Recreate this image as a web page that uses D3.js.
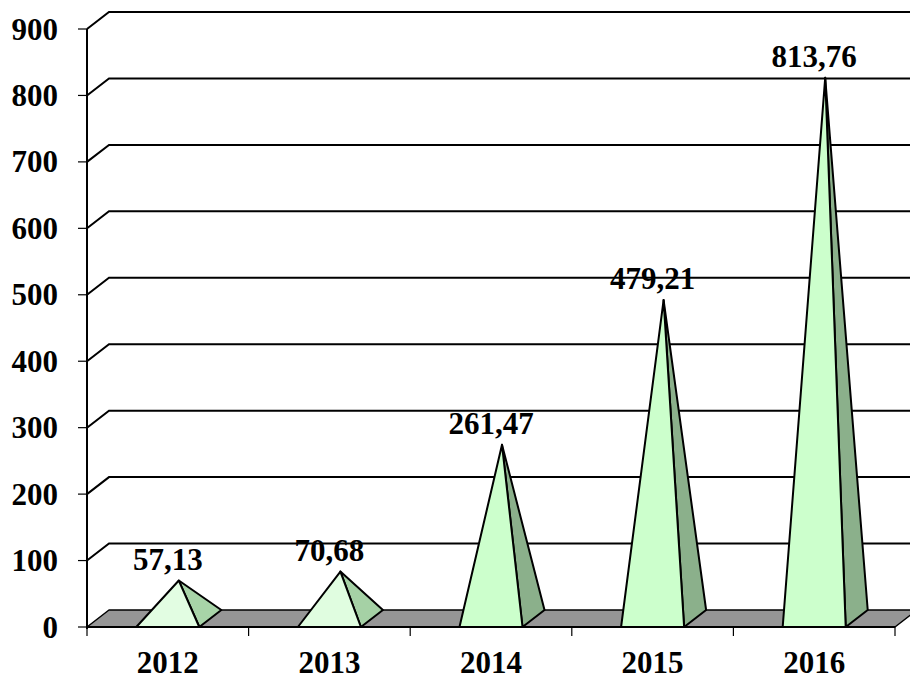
<!DOCTYPE html>
<html>
<head>
<meta charset="utf-8">
<script src="https://cdn.jsdelivr.net/npm/d3@7/dist/d3.min.js"></script>
<style>
  html, body { margin: 0; padding: 0; background: #ffffff; }
  svg { display: block; }
  text { font-family: "Liberation Serif", "Times New Roman", serif; font-weight: bold; fill: #000; }
</style>
</head>
<body>
<svg id="chart" width="910" height="682"></svg>
<script>
// Chart data
const years = ["2012", "2013", "2014", "2015", "2016"];
const values = [57.13, 70.68, 261.47, 479.21, 813.76];
const valueLabels = ["57,13", "70,68", "261,47", "479,21", "813,76"];
const yTicks = [0, 100, 200, 300, 400, 500, 600, 700, 800, 900];

const W = 910, H = 682;
const svg = d3.select("#chart");

// Front plane of the plot and the 3-D depth offset
const plotLeft = 87, plotRight = 895, plotBottom = 627, plotTop = 29;
const depthX = 22, depthY = -17;

const x = d3.scaleBand().domain(years).range([plotLeft, plotRight]).paddingInner(0).paddingOuter(0);
const y = d3.scaleLinear().domain([0, 900]).range([plotBottom, plotTop]);

const fontSize = 31;

// Back wall grid lines with their diagonal run across the side wall
const grid = svg.append("g");
yTicks.filter(v => v > 0).forEach(v => {
  const yy = y(v);
  grid.append("path")
    .attr("d", `M${plotLeft},${yy} L${plotLeft + depthX},${yy + depthY} L${W + 5},${yy + depthY}`)
    .attr("fill", "none").attr("stroke", "#000").attr("stroke-width", 2);
});

// Floor
const y0 = y(0);
svg.append("path")
  .attr("d", `M${plotLeft},${y0} L${plotRight},${y0} L${plotRight + depthX},${y0 + depthY} L${plotLeft + depthX},${y0 + depthY} Z`)
  .attr("fill", "#969696").attr("stroke", "#000").attr("stroke-width", 1.5).attr("stroke-linejoin", "round");

// Pyramids
const baseFrac = 0.39;
const bw = x.bandwidth();
const pyr = svg.append("g");
years.forEach((yr, i) => {
  const cx = x(yr) + bw / 2;
  const half = bw * baseFrac / 2;
  const fl = [cx - half, y0];
  const fr = [cx + half, y0];
  const br = [cx + half + depthX, y0 + depthY];
  const apex = [cx + depthX / 2, y(values[i]) + depthY / 2];
  const h = y0 - apex[1];
  const t = Math.max(0, Math.min(1, (h - 45) / 110));
  const frontCol = d3.interpolateRgb("#e2fde2", "#ccffcc")(t);
  const sideCol = d3.interpolateRgb("#a8d4a8", "#8bb08b")(t);
  pyr.append("path")
    .attr("d", `M${fr[0]},${fr[1]} L${br[0]},${br[1]} L${apex[0]},${apex[1]} Z`)
    .attr("fill", sideCol).attr("stroke", "#000").attr("stroke-width", 2).attr("stroke-linejoin", "round");
  pyr.append("path")
    .attr("d", `M${fl[0]},${fl[1]} L${fr[0]},${fr[1]} L${apex[0]},${apex[1]} Z`)
    .attr("fill", frontCol).attr("stroke", "#000").attr("stroke-width", 2).attr("stroke-linejoin", "round");

  // value label above the tip
  svg.append("text")
    .attr("x", cx).attr("y", apex[1] - 11)
    .attr("text-anchor", "middle")
    .attr("font-size", fontSize)
    .text(valueLabels[i]);
});

// Category axis along the floor front edge
const xAxis = svg.append("g");
xAxis.append("line").attr("x1", plotLeft).attr("x2", plotRight).attr("y1", y0).attr("y2", y0)
  .attr("stroke", "#000").attr("stroke-width", 2);
const boundaries = years.map(d => x(d)).concat([plotRight]);
boundaries.forEach(bx => {
  xAxis.append("line").attr("x1", bx).attr("x2", bx).attr("y1", y0).attr("y2", y0 + 9)
    .attr("stroke", "#000").attr("stroke-width", 1.2);
});
years.forEach(yr => {
  xAxis.append("text")
    .attr("x", x(yr) + bw / 2).attr("y", 673)
    .attr("text-anchor", "middle")
    .attr("font-size", fontSize)
    .text(yr);
});

// Value axis
const yAxis = svg.append("g");
yAxis.append("line").attr("x1", plotLeft).attr("x2", plotLeft).attr("y1", y(900)).attr("y2", y0 + 2)
  .attr("stroke", "#000").attr("stroke-width", 2);
yTicks.forEach(v => {
  yAxis.append("line").attr("x1", plotLeft - 9).attr("x2", plotLeft).attr("y1", y(v)).attr("y2", y(v))
    .attr("stroke", "#000").attr("stroke-width", 1.2);
  yAxis.append("text")
    .attr("x", 58).attr("y", y(v) + 10.5)
    .attr("text-anchor", "end")
    .attr("font-size", fontSize)
    .text(v);
});
</script>
</body>
</html>
